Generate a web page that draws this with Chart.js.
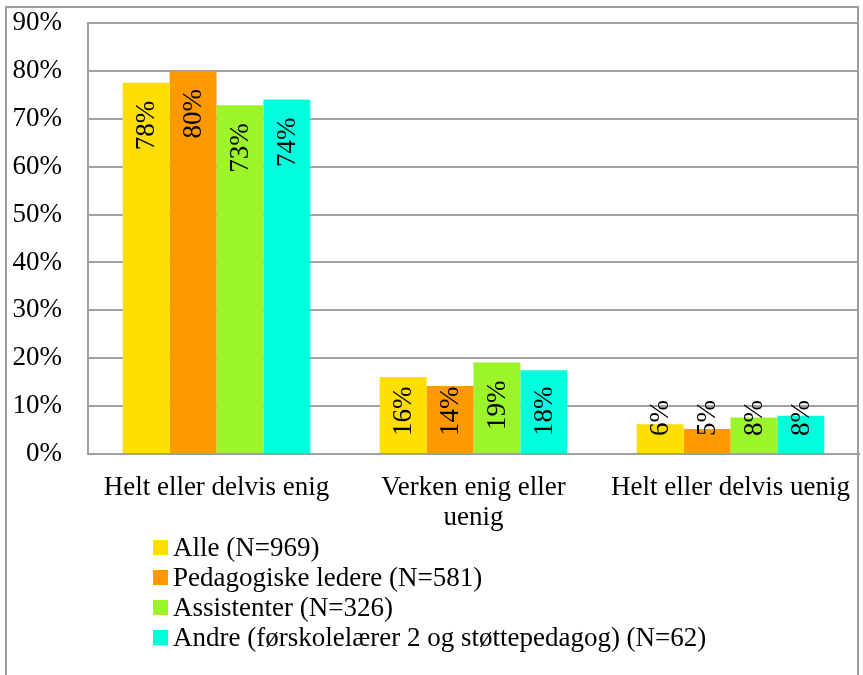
<!DOCTYPE html>
<html lang="no">
<head>
<meta charset="utf-8">
<title>Enighet</title>
<script src="https://cdn.jsdelivr.net/npm/chart.js@4.4.1/dist/chart.umd.min.js"></script>
<style>
  html, body { margin: 0; padding: 0; background: #fff; }
  body { width: 863px; height: 675px; position: relative; overflow: hidden; font-family: 'Liberation Serif', serif; }
  #chart { position: absolute; left: 0; top: 0; }
  .frame { position: absolute; left: 5px; top: 6px; width: 850px; height: 700px; border: 2px solid #9c9c9c; border-bottom: none; pointer-events: none; }
  #legend { position: absolute; left: 153px; top: 532px; }
  .legend-item { height: 30px; display: flex; align-items: center; font-size: 27px; color: #000; white-space: nowrap; }
  .legend-box { width: 15px; height: 15px; margin-right: 5px; flex: none; }
</style>
</head>
<body>
<canvas id="chart" width="863" height="675"></canvas>
<div class="frame"></div>
<div id="legend"></div>
<script>
'use strict';

// ─── Data ─────────────────────────────────────────────────────────────────────
const categories = [['Helt eller delvis enig'], ['Verken enig eller', 'uenig'], ['Helt eller delvis uenig']];
const seriesNames = [
  'Alle (N=969)',
  'Pedagogiske ledere (N=581)',
  'Assistenter (N=326)',
  'Andre (førskolelærer 2 og støttepedagog) (N=62)',
];
const alle = [77.5, 16.1, 6.2];
const pedagogiskeLedere = [80.0, 14.2, 5.2];
const assistenter = [72.8, 19.1, 7.6];
const andre = [74.0, 17.5, 8.0];
const yTicks = [0, 10, 20, 30, 40, 50, 60, 70, 80, 90];

const colors = ['#ffdf00', '#ff9900', '#9bf52a', '#00ffdd'];
const FONT = "'Liberation Serif', serif";

Chart.defaults.font.family = FONT;
Chart.defaults.color = '#000';

// ─── Value labels (rotated, inside end) ──────────────────────────────────────
const barLabels = {
  id: 'barLabels',
  afterDatasetsDraw(chart) {
    const ctx = chart.ctx;
    ctx.save();
    ctx.font = `27px ${FONT}`;
    ctx.fillStyle = '#000';
    ctx.textAlign = 'right';
    ctx.textBaseline = 'middle';
    chart.data.datasets.forEach((ds, i) => {
      chart.getDatasetMeta(i).data.forEach((bar, j) => {
        const text = Math.round(ds.data[j]) + '%';
        const len = ctx.measureText(text).width;
        let topY = bar.y + 18;
        if (topY + len > bar.base - 17) topY = bar.base - 17 - len;
        ctx.save();
        ctx.translate(bar.x + 1, topY);
        ctx.rotate(-Math.PI / 2);
        ctx.fillText(text, 0, 0);
        ctx.restore();
      });
    });
    ctx.restore();
  },
};

// ─── Chart ────────────────────────────────────────────────────────────────────
const seriesValues = [alle, pedagogiskeLedere, assistenter, andre];

const chart = new Chart(document.getElementById('chart'), {
  type: 'bar',
  data: {
    labels: categories,
    datasets: seriesValues.map((vals, i) => ({
      label: seriesNames[i],
      data: vals,
      backgroundColor: colors[i],
      borderWidth: 0,
      categoryPercentage: 0.73,
      barPercentage: 1,
    })),
  },
  options: {
    responsive: false,
    animation: false,
    layout: { padding: { top: 23, right: 4, bottom: 0, left: 0 } },
    plugins: {
      legend: { display: false },
      tooltip: { enabled: false },
    },
    scales: {
      x: {
        grid: { display: false, drawTicks: false },
        border: { display: true, color: '#a0a0a0', width: 2 },
        ticks: {
          font: { size: 27, family: FONT, lineHeight: 1.12 },
          color: '#000',
          padding: 19,
          maxRotation: 0,
          minRotation: 0,
          autoSkip: false,
        },
        afterFit(scale) {
          scale.height = 221;
          scale.paddingLeft = 0;
          scale.paddingRight = 0;
        },
      },
      y: {
        min: 0,
        max: 90,
        afterBuildTicks(scale) { scale.ticks = yTicks.map(v => ({ value: v })); },
        grid: { color: '#a0a0a0', lineWidth: 2, drawTicks: false },
        border: { display: true, color: '#a0a0a0', width: 2 },
        ticks: {
          font: { size: 27, family: FONT },
          color: '#000',
          padding: 26,
          callback: v => v + '%',
        },
        afterFit(scale) {
          scale.width = 88;
          scale.paddingTop = 0;
          scale.paddingBottom = 0;
        },
      },
    },
  },
  plugins: [barLabels],
});

// ─── Legend (vertical list under the plot) ───────────────────────────────────
document.getElementById('legend').innerHTML = chart.data.datasets.map(ds => `
  <div class="legend-item"><span class="legend-box" style="background:${ds.backgroundColor}"></span>${ds.label}</div>
`).join('');
</script>
</body>
</html>
